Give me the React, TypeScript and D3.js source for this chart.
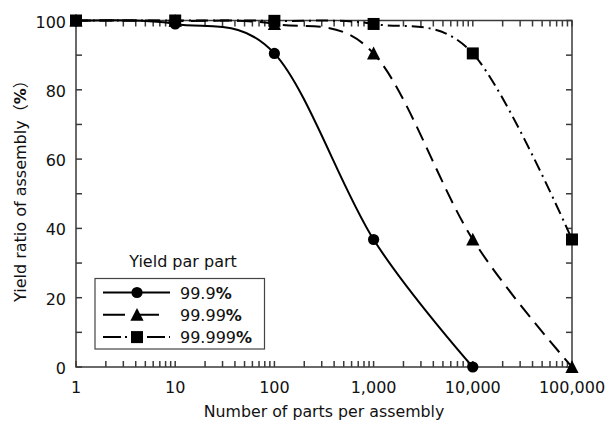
import React from "react";
import * as d3 from "d3";

// parts per assembly (x) and yield ratio of assembly (%) per part yield
const partCounts = [1, 10, 100, 1000, 10000, 100000];
const yield999 = [99.9, 99.0, 90.5, 36.8, 0];
const yield9999 = [100, 99.9, 99.0, 90.5, 36.8, 0];
const yield99999 = [100, 100, 99.9, 99.0, 90.5, 36.8];
const seriesNames = ["99.9", "99.99", "99.999"];
const xTickLabels = ["1", "10", "100", "1,000", "10,000", "100,000"];
const yTicks = [0, 20, 40, 60, 80, 100];

const W = 611;
const H = 421;
const margin = { top: 20.5, right: 39, bottom: 54, left: 76 };
const FONT = "'DejaVu Sans', sans-serif";

const series = [
  { name: seriesNames[0], values: yield999, shape: "circle", dash: "none", legendDash: "none" },
  { name: seriesNames[1], values: yield9999, shape: "triangle", dash: "15,8", legendDash: "22,12" },
  { name: seriesNames[2], values: yield99999, shape: "square", dash: "12,5,2,5", legendDash: "18,4,2,4,6,4,2,4" },
];

function Marker({ shape, x, y }: { shape: string; x: number; y: number }) {
  if (shape === "circle") return <circle cx={x} cy={y} r={5.6} fill="#000" />;
  if (shape === "square")
    return <rect x={x - 6} y={y - 6} width={12} height={12} fill="#000" />;
  return (
    <path
      d={`M${x},${y - 6.8} L${x + 6.6},${y + 6} L${x - 6.6},${y + 6} Z`}
      fill="#000"
    />
  );
}

export default function App() {
  const x = d3
    .scaleLog()
    .domain([1, 100000])
    .range([margin.left, W - margin.right]);
  const y = d3
    .scaleLinear()
    .domain([0, 100])
    .range([H - margin.bottom, margin.top]);

  // smoothed line through the points (uniform Catmull-Rom)
  const line = d3
    .line<[number, number]>()
    .x((d) => x(d[0]))
    .y((d) => y(d[1]))
    .curve(d3.curveCatmullRom.alpha(0));

  const [x0, x1] = x.range();
  const [yb, yt] = y.range();
  const tickLen = 6;

  // log ticks: 1..9 x 10^k
  const logTicks: number[] = [];
  for (let k = 0; k < 5; k++)
    for (let m = 1; m < 10; m++) logTicks.push(m * Math.pow(10, k));
  logTicks.push(100000);
  const yMinor = d3.range(0, 101, 10);

  const axisColor = "#3a3a3a";

  return (
    <svg
      width={W}
      height={H}
      style={{ position: "absolute", left: 0, top: 0, background: "#fff" }}
      fontFamily={FONT}
    >
      {/* frame */}
      <rect
        x={x0}
        y={yt}
        width={x1 - x0}
        height={yb - yt}
        fill="none"
        stroke={axisColor}
        strokeWidth={1.5}
      />
      {/* x ticks bottom and top, inward */}
      {logTicks.map((t) => (
        <g key={"xt" + t} stroke={axisColor} strokeWidth={1.5}>
          <line x1={x(t)} x2={x(t)} y1={yb} y2={yb - tickLen} />
          <line x1={x(t)} x2={x(t)} y1={yt} y2={yt + tickLen} />
        </g>
      ))}
      {/* y ticks left and right, inward */}
      {yMinor.map((t) => (
        <g key={"yt" + t} stroke={axisColor} strokeWidth={1.5}>
          <line x1={x0} x2={x0 + tickLen} y1={y(t)} y2={y(t)} />
          <line x1={x1} x2={x1 - tickLen} y1={y(t)} y2={y(t)} />
        </g>
      ))}
      {/* x tick labels */}
      {partCounts.map((t, i) => (
        <text
          key={"xl" + t}
          x={x(t)}
          y={393}
          textAnchor="middle"
          fontSize={16}
          fill="#111"
        >
          {xTickLabels[i]}
        </text>
      ))}
      {/* y tick labels */}
      {yTicks.map((t) => (
        <text
          key={"yl" + t}
          x={66}
          y={y(t) + 7}
          textAnchor="end"
          fontSize={16}
          fill="#111"
        >
          {t}
        </text>
      ))}
      {/* axis titles */}
      <text
        x={(x0 + x1) / 2}
        y={417}
        textAnchor="middle"
        fontSize={15.8}
        fill="#111"
      >
        Number of parts per assembly
      </text>
      <text
        transform={`translate(25.5,302) rotate(-90)`}
        fontSize={16}
        fill="#111"
      >
        Yield ratio of assembly
        <tspan fontFamily="'Noto Sans CJK JP'">（</tspan>
        <tspan fontWeight="bold">%</tspan>
        <tspan fontFamily="'Noto Sans CJK JP'">）</tspan>
      </text>

      {/* series lines */}
      {series.map((s) => (
        <path
          key={"l" + s.name}
          d={
            line(
              s.values.map((v, i) => [partCounts[i], v] as [number, number])
            ) || ""
          }
          fill="none"
          stroke="#000"
          strokeWidth={2}
          strokeDasharray={s.dash}
        />
      ))}
      {/* markers */}
      {series.map((s) =>
        s.values.map((v, i) => (
          <Marker
            key={s.name + "-" + i}
            shape={s.shape}
            x={x(partCounts[i])}
            y={y(v)}
          />
        ))
      )}

      {/* legend */}
      <text x={183} y={266.5} textAnchor="middle" fontSize={16} fill="#111">
        Yield par part
      </text>
      <rect
        x={95}
        y={278.5}
        width={169.5}
        height={70.5}
        fill="#fff"
        stroke="#444"
        strokeWidth={1.2}
      />
      {series.map((s, i) => {
        const ry = 292.5 + i * 22.3;
        return (
          <g key={"lg" + s.name}>
            <line
              x1={103}
              x2={170}
              y1={ry}
              y2={ry}
              stroke="#000"
              strokeWidth={2}
              strokeDasharray={s.legendDash}
            />
            <Marker shape={s.shape} x={137} y={ry} />
            <text x={180} y={ry + 6} fontSize={16} fill="#111">
              {s.name}
              <tspan fontWeight="bold">%</tspan>
            </text>
          </g>
        );
      })}
    </svg>
  );
}
